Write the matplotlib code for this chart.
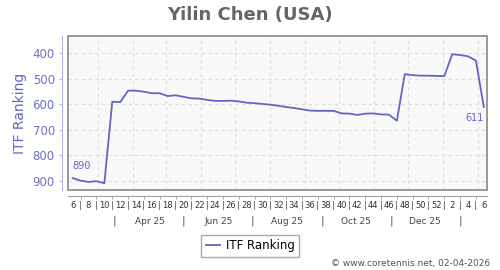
import numpy as np
import pandas as pd
import matplotlib
matplotlib.use("Agg")
import matplotlib.pyplot as plt
from matplotlib.patches import Rectangle
from matplotlib.transforms import blended_transform_factory

# ---- data (weekly ITF ranking, week 6 2025 -> week 6 2026) ----
weeks = list(range(6, 53)) + list(range(1, 7))
ranking = [890, 900, 905, 902, 910, 590, 592, 547, 547, 551,
           557, 557, 568, 565, 571, 577, 578, 583, 587, 587,
           586, 589, 594, 596, 599, 602, 606, 611, 615, 620,
           625, 626, 626, 626, 636, 637, 642, 637, 636, 640,
           641, 665, 482, 486, 488, 488, 489, 490, 404, 407,
           412, 429, 611]
first_date = pd.Timestamp("2025-02-07")
month_labels = ["Apr 25", "Jun 25", "Aug 25", "Oct 25", "Dec 25"]
month_label_dates = ["2025-04-16", "2025-06-16", "2025-08-16", "2025-10-16", "2025-12-16"]
month_sep_dates = ["2025-03-16", "2025-05-16", "2025-07-16", "2025-09-16", "2025-11-16", "2026-01-16"]

line_color = "#6464c8"

def week_pos(d):
    return (pd.Timestamp(d) - first_date).days / 7

x = np.arange(len(ranking))

fig = plt.figure(figsize=(5, 2.7), dpi=100)
ax = fig.add_axes([0.136, 0.295, 0.838, 0.572])
ax.set_facecolor("#f9f9f9")

# grid
for d in pd.date_range("2025-03-01", "2026-02-01", freq="MS"):
    ax.axvline(week_pos(d), color="#dcdcdc", lw=0.8, ls=(0, (3, 3)), zorder=1)
for v in range(400, 1000, 100):
    ax.axhline(v, color="#dcdcdc", lw=0.8, ls=(0, (3, 3)), zorder=1)

ax.plot(x, ranking, color=line_color, lw=1.3, label="ITF Ranking", zorder=3)

ax.annotate(str(ranking[0]), (x[0], ranking[0]), xytext=(0, 5), textcoords="offset points",
            ha="left", va="bottom", fontsize=7, color=line_color)
ax.annotate(str(ranking[-1]), (x[-1], ranking[-1]), xytext=(0, -4), textcoords="offset points",
            ha="right", va="top", fontsize=7, color=line_color)

ax.set_xlim(-0.6, 52.4)
ax.set_ylim(938, 332)

# frame
ax.add_patch(Rectangle((0, 0), 1, 1, transform=ax.transAxes, fill=False,
                       edgecolor="#888888", lw=1.2, zorder=5, clip_on=False))
ax.spines["top"].set_visible(False)
ax.spines["right"].set_visible(False)
ax.spines["left"].set_position(("outward", 4))
ax.spines["left"].set_color("#b4b4e0")
ax.spines["bottom"].set_position(("outward", 4))
ax.spines["bottom"].set_color("#a0a0a0")

# y axis
ax.set_yticks(range(400, 1000, 100))
ax.tick_params(axis="y", colors="#b4b4e0", labelcolor="#7070c8", labelsize=8.5,
               length=2.5, pad=3)
ax.set_ylabel("ITF Ranking", fontsize=10, color="#6464c8", labelpad=4)

# x axis: even weeks labelled, odd weeks as separators
ax.set_xticks(x[::2])
ax.set_xticklabels([str(w) for w in weeks[::2]])
ax.set_xticks(x[1::2], minor=True)
ax.set_xticklabels(["|"] * len(x[1::2]), minor=True)
ax.tick_params(axis="x", which="major", length=0, pad=4, labelsize=6, labelcolor="#333333")
ax.tick_params(axis="x", which="minor", length=2, pad=2, labelsize=6, colors="#999999",
               labelcolor="#555555")

# month row
trans = blended_transform_factory(ax.transData, ax.transAxes)
for lab, d in zip(month_labels, month_label_dates):
    ax.text(week_pos(d), -0.2, lab, transform=trans, ha="center", va="center",
            fontsize=6.5, color="#444444")
for d in month_sep_dates:
    ax.text(week_pos(d), -0.2, "|", transform=trans, ha="center", va="center",
            fontsize=8, color="#555555")

fig.text(0.5, 0.945, "Yilin Chen (USA)", ha="center", va="center",
         fontsize=13, fontweight="bold", color="#666666")

fig.legend(loc="center", bbox_to_anchor=(0.5, 0.089), fontsize=8.5, fancybox=False,
           edgecolor="#aaaaaa", handlelength=1.2, handletextpad=0.5, borderpad=0.4,
           framealpha=1)

fig.text(0.98, 0.025, "\u00a9 www.coretennis.net, 02-04-2026", ha="right", va="center",
         fontsize=6.5, color="#555555")

plt.savefig("out.png", dpi=100)
